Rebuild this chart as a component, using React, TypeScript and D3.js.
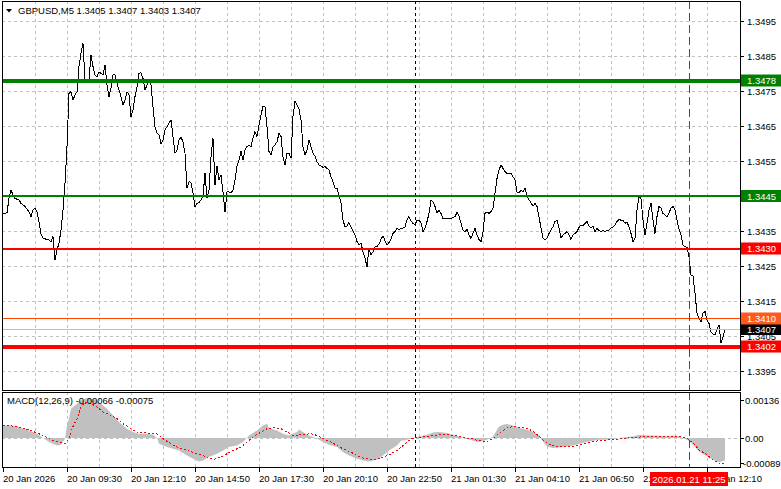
import React from 'react';
import * as d3 from 'd3';

// ---------- DATA ----------
const headerText = 'GBPUSD,M5  1.3405 1.3407 1.3403 1.3407';
const macdHeader = 'MACD(12,26,9) -0.00066 -0.00075';

// M5 bars counted from 20 Jan 06:50
const priceBars = [
  0, 2, 3, 4, 5, 6, 8, 9, 11, 13, 14, 15, 16, 17, 18, 19, 20, 22, 23, 24, 25, 26, 27, 28, 29, 30,
  31, 32, 33, 34, 35, 36, 37, 38, 39, 40, 41, 42, 43, 44, 45, 46, 47, 48, 49, 50, 51, 52, 53, 54,
  55, 56, 57, 58, 59, 60, 61, 62, 63, 64, 65, 66, 67, 68, 69, 70, 71, 72, 73, 74, 75, 76, 77, 78,
  79, 80, 81, 82, 83, 84, 85, 86, 87, 88, 89, 90, 91, 92, 93, 94, 95, 96, 97, 98, 99, 100, 101, 102,
  103, 104, 105, 106, 107, 108, 109, 110, 111, 112, 113, 114, 115, 116, 117, 118, 119, 120, 121,
  122, 123, 124, 125, 126, 127, 128, 129, 130, 131, 132, 133, 134, 135, 136, 137, 138, 139, 140,
  141, 142, 143, 144, 145, 146, 147, 148, 149, 150, 151, 152, 153, 154, 155, 156, 157, 158, 159,
  160, 161, 162, 163, 164, 165, 166, 167, 168, 169, 170, 171, 172, 173, 174, 175, 176, 177, 178,
  179, 180, 181, 182, 183, 184, 185, 186, 187, 188, 189, 190, 191, 192, 193, 194, 195, 196, 197,
  198, 199, 200, 201, 202, 203, 204, 205, 206, 207, 208, 209, 210, 211, 212, 213, 214, 215, 216,
  217, 218, 219, 220, 221, 222, 223, 224, 225, 226, 227, 228, 229, 230, 231, 232, 233, 234, 235,
  236, 237, 238, 239, 240, 241, 242, 243, 244, 245, 246, 247, 248, 249, 250, 251, 252, 253, 254,
  255, 256, 257, 258, 259, 260, 261, 262, 263, 264, 265, 266, 267, 268, 269, 270, 271, 272, 273,
  274, 275, 276, 277, 278, 279, 280, 281, 282, 283, 284, 285, 286, 287, 288, 289, 290, 291, 292,
  293, 294, 295, 296, 297, 298, 299, 300, 301, 302, 303, 304, 305, 306, 307, 308, 309, 310, 311,
  312, 313, 314, 315, 316, 317, 318, 319, 320, 321, 322, 323, 324, 325, 326, 327, 328, 329, 330,
  331, 332, 333, 334, 335, 336, 337, 338, 339, 340, 341, 342, 343, 344, 345, 346, 347, 348, 349,
  350, 351, 352, 353, 354, 355, 356, 357, 358, 359, 360, 361,
];
const priceCloses = [
  1.34400, 1.34402, 1.34443, 1.34467, 1.34453, 1.34443, 1.34439, 1.34429, 1.34420, 1.34405, 1.34391,
  1.34410, 1.34415, 1.34405, 1.34377, 1.34341, 1.34329, 1.34326, 1.34324, 1.34320, 1.34334, 1.34267,
  1.34296, 1.34315, 1.34353, 1.34410,
  1.34486, 1.34591, 1.34743, 1.34748, 1.34724, 1.34739, 1.34748, 1.34820, 1.34858, 1.34886, 1.34781,
  1.34772, 1.34781, 1.34853, 1.34820, 1.34796, 1.34791, 1.34805, 1.34800, 1.34796, 1.34824, 1.34767,
  1.34734, 1.34758,
  1.34796, 1.34796, 1.34772, 1.34753, 1.34734, 1.34710, 1.34724, 1.34748, 1.34739, 1.34677, 1.34696,
  1.34734, 1.34762, 1.34800, 1.34802, 1.34786, 1.34753, 1.34767, 1.34781, 1.34767, 1.34705, 1.34648,
  1.34629, 1.34624,
  1.34600, 1.34610, 1.34639, 1.34648, 1.34658, 1.34667, 1.34620, 1.34572, 1.34581, 1.34610, 1.34618,
  1.34605, 1.34572, 1.34472, 1.34491, 1.34488, 1.34458, 1.34420, 1.34429, 1.34431, 1.34439, 1.34448,
  1.34517, 1.34443,
  1.34467, 1.34562, 1.34615, 1.34481, 1.34536, 1.34496, 1.34510, 1.34462, 1.34405, 1.34462, 1.34462,
  1.34458, 1.34467, 1.34496, 1.34536, 1.34553, 1.34577, 1.34553, 1.34581,
  1.34591, 1.34596, 1.34591, 1.34615, 1.34634, 1.34620, 1.34653, 1.34681, 1.34707, 1.34705, 1.34648,
  1.34577, 1.34567, 1.34591, 1.34596, 1.34605, 1.34629, 1.34620, 1.34562,
  1.34539, 1.34572, 1.34572, 1.34558, 1.34677, 1.34720, 1.34710, 1.34698, 1.34667, 1.34591, 1.34567,
  1.34581, 1.34610, 1.34591, 1.34572, 1.34564, 1.34548, 1.34539, 1.34536,
  1.34532, 1.34534, 1.34529, 1.34524, 1.34505, 1.34491, 1.34472, 1.34472, 1.34453, 1.34429, 1.34381,
  1.34362, 1.34364, 1.34374, 1.34362, 1.34351, 1.34339, 1.34320, 1.34310,
  1.34315, 1.34291, 1.34272, 1.34248, 1.34300, 1.34281, 1.34291, 1.34305, 1.34305, 1.34313, 1.34326,
  1.34336, 1.34322, 1.34310, 1.34317, 1.34326, 1.34343, 1.34348, 1.34358,
  1.34353, 1.34357, 1.34358, 1.34362, 1.34381, 1.34391, 1.34378, 1.34372, 1.34367, 1.34381, 1.34380,
  1.34374, 1.34348, 1.34358, 1.34377, 1.34400, 1.34439, 1.34434, 1.34420,
  1.34402, 1.34410, 1.34400, 1.34386, 1.34386, 1.34386, 1.34386, 1.34386, 1.34388, 1.34391, 1.34403,
  1.34393, 1.34372, 1.34353, 1.34348, 1.34355, 1.34339, 1.34329, 1.34343,
  1.34358, 1.34339, 1.34326, 1.34319, 1.34348, 1.34400, 1.34405, 1.34400, 1.34405, 1.34415, 1.34458,
  1.34500, 1.34524, 1.34539, 1.34529, 1.34520, 1.34515, 1.34515, 1.34515,
  1.34505, 1.34496, 1.34462, 1.34458, 1.34467, 1.34462, 1.34472, 1.34450, 1.34439, 1.34431, 1.34421,
  1.34429, 1.34420, 1.34391, 1.34358, 1.34329, 1.34326, 1.34329, 1.34343,
  1.34353, 1.34362, 1.34377, 1.34381, 1.34358, 1.34329, 1.34339, 1.34343, 1.34348, 1.34339, 1.34326,
  1.34339, 1.34343, 1.34348, 1.34360, 1.34367, 1.34364, 1.34372, 1.34377,
  1.34364, 1.34358, 1.34364, 1.34348, 1.34358, 1.34351, 1.34348, 1.34353, 1.34348, 1.34351, 1.34353,
  1.34358, 1.34362, 1.34367, 1.34377, 1.34383, 1.34381, 1.34380, 1.34372,
  1.34375, 1.34362, 1.34343, 1.34320, 1.34329, 1.34410, 1.34448, 1.34443, 1.34381, 1.34339, 1.34372,
  1.34410, 1.34429, 1.34381, 1.34343, 1.34391, 1.34420, 1.34415, 1.34400,
  1.34396, 1.34391, 1.34402, 1.34415, 1.34420, 1.34410, 1.34381, 1.34355, 1.34339, 1.34310, 1.34305,
  1.34303, 1.34277, 1.34224, 1.34221, 1.34172, 1.34115, 1.34100, 1.34091,
  1.34115, 1.34120, 1.34096, 1.34086, 1.34062, 1.34056, 1.34053, 1.34069, 1.34081, 1.34029, 1.34048, 1.34070,
];

const macdBars = [
  0, 4, 7, 10, 13, 17, 20, 23, 27, 29, 31, 32, 33, 34, 37, 39, 42, 44, 47, 49, 52, 55, 58, 62, 65, 68,
  72, 75, 77, 78, 82, 85, 88, 92, 95, 98, 100, 103, 107, 110, 113, 117, 120, 123, 127, 130, 132, 133,
  137, 140, 143, 147, 148, 150, 153, 157, 160, 163, 167, 170, 173, 177, 180, 183, 187, 190, 193, 197,
  199, 202, 205, 208, 212, 215, 218, 222, 225, 228, 232, 235, 238, 242, 245, 247, 248, 250, 252, 255,
  258, 262, 265, 268, 270, 272, 275, 278, 282, 285, 288, 292, 295, 298, 302, 305, 308, 312, 315, 318,
  322, 325, 328, 332, 335, 338, 342, 345, 348, 352, 355, 358, 361,
];
const macdValues = [
  0.000453, 0.000453, 0.000429, 0.000334, 0.000274, 0.000155, 0, -0.000143, -0.000262, -0.000239,
  -0.000024, 0.000453, 0.000692, 0.00105, 0.001229, 0.001348, 0.001432, 0.001408, 0.001348, 0.001229,
  0.00105, 0.000811, 0.000573, 0.000334, 0.000215, 0.000155,
  0.000155, 0.000119, 0, -0.000203, -0.000322, -0.000382, -0.000441, -0.00062, -0.00074, -0.000835,
  -0.000799, -0.00068, -0.000561, -0.000441, -0.000322, -0.000262, -0.000143, 0.000095, 0.000274,
  0.000453, 0.000513, 0.000358,
  0.000274, 0.000155, 0.000095, 0.000215, 0.00031, 0.000215, 0.000095, -0.000024, -0.000143,
  -0.000239, -0.000322, -0.000501, -0.00062, -0.00074, -0.000799, -0.000835, -0.000764, -0.00062,
  -0.000441, -0.000262,
  -0.000095, -0.00006, 0, 0.00006, 0.000119, 0.000203, 0.000215, 0.000179, 0.000119, 0.00006,
  -0.000024, -0.000095, -0.000143, -0.00006, 0.00006, 0.000298, 0.000418, 0.000477, 0.000501, 0.000453,
  0.000358, 0.000298, 0.000239, 0.000095, -0.000119, -0.000298, -0.000358, -0.000334, -0.000298,
  -0.000262, -0.000215, -0.000143, -0.000095, -0.00006, -0.00006, -0.000036, 0, 0.000036, 0.00006,
  0.000119, 0.000095, 0.000095, 0.000084, 0.00006, 0.000095, 0.00006, -0.00006, -0.000239, -0.000477,
  -0.000656, -0.000775, -0.000859, -0.00080,
];

const signalBars = [
  0, 5, 10, 15, 20, 25, 29, 31, 33, 34, 37, 39, 41, 44, 47, 50, 54, 57, 60, 64, 67, 72, 77, 80, 84, 87,
  92, 97, 102, 105, 109, 112, 115, 119, 122, 125, 129, 132, 135, 139, 142, 145, 149, 154, 157, 160,
  164, 167, 170, 174, 177, 180, 184, 187, 190, 194, 197, 199, 202, 205, 208, 212, 215, 218, 222, 225,
  228, 232, 235, 238, 242, 245, 248, 252, 255, 258, 262, 265, 268, 272, 275, 278, 282, 285, 288, 292,
  295, 298, 302, 305, 308, 312, 315, 318, 322, 328, 335, 338, 342, 345, 348, 352, 355, 358, 361,
];
const signalValues = [
  0.000453, 0.000429, 0.000358, 0.000239, 0.000095, -0.000084, -0.000167, -0.000203, -0.000024,
  0.000274, 0.000692, 0.00111, 0.001288, 0.001229, 0.00111, 0.000931, 0.000811, 0.000692, 0.000513,
  0.000334, 0.000215, 0.000179, 0.000155, -0.000024, -0.000203, -0.000322,
  -0.000441, -0.000561, -0.00068, -0.000764, -0.00068, -0.000561, -0.000441, -0.000322, -0.000143,
  0.000036, 0.000215, 0.000334, 0.00037, 0.000334, 0.000215, 0.000095, 0.000119, 0.000155, 0.000095,
  -0.000024, -0.000143, -0.000262, -0.000382, -0.000501, -0.00062, -0.000716, -0.000764, -0.000764,
  -0.00068, -0.000561, -0.000441, -0.000334, -0.000143, 0, 0.000024, 0.00006, 0.000095, 0.000119,
  0.000119, 0.000095, 0.00006, 0, -0.000036, -0.000095, -0.000119, -0.000024, 0.000179, 0.000358,
  0.000418, 0.000382, 0.000358, 0.000239, 0.00006, -0.000179, -0.000274, -0.000298, -0.000298,
  -0.000298, -0.000239, -0.000179, -0.000119, -0.000095, -0.000072, -0.00006, -0.000036, 0, 0.000024,
  0.000036, 0.00006, 0.00006, 0.00006, 0.00006, 0, -0.000179, -0.000418, -0.000597, -0.000775,
  -0.000895, -0.00089,
];

const priceTicks = [1.3395, 1.3405, 1.3415, 1.3425, 1.3435, 1.3445, 1.3455, 1.3465, 1.3475, 1.3485, 1.3495];
const levelValues = [1.3478, 1.3445, 1.3430, 1.3410, 1.3402];
const currentPrice = 1.3407;
const macdTicks = [0.00136, 0, -0.00089];
const macdTickLabels = ['0.00136', '0.00', '-0.00089'];
const timeTickBars = [0, 32, 64, 96, 128, 160, 192, 224, 256, 288, 320, 352];
const timeTickLabels = [
  '20 Jan 2026', '20 Jan 09:30', '20 Jan 12:10', '20 Jan 14:50', '20 Jan 17:30', '20 Jan 20:10',
  '20 Jan 22:50', '21 Jan 01:30', '21 Jan 04:10', '21 Jan 06:50', '21 Jan 09:30', '21 Jan 12:10',
];
const daySeparatorBars = [206];
const markerBar = 343;
const markerLabel = '2026.01.21 11:25';

// ---------- LAYOUT ----------
const W = 781;
const H = 489;
const L = 2;
const R = 740;
const MAIN_T = 1;
const MAIN_B = 390;
const MACD_T = 392;
const MACD_B = 467;
const FONT = '"Liberation Sans", Arial, sans-serif';
const FS = 9.5;

const levelStyle = [
  { color: '#008000', width: 4, box: '#008000' },
  { color: '#008000', width: 2, box: '#008000' },
  { color: '#FF0000', width: 2, box: '#FF0000' },
  { color: '#FF4500', width: 1, box: '#FF5A1E' },
  { color: '#FF0000', width: 4, box: '#FF0000' },
];

export default function App() {
  const x = d3.scaleLinear().domain([0, 361]).range([3, 725]);
  const y = d3.scaleLinear().domain([1.3395, 1.3495]).range([371, 21]);
  const ym = d3.scaleLinear().domain([-0.00089, 0.00136]).range([463, 400]);

  const priceData = priceBars.map((b, i) => [b, priceCloses[i]] as [number, number]);
  const macdData = macdBars.map((b, i) => [b, macdValues[i]] as [number, number]);
  const sigData = signalBars.map((b, i) => [b, signalValues[i]] as [number, number]);

  const priceLine = d3.line<[number, number]>().x((d) => x(d[0])).y((d) => y(d[1]))(priceData) || '';
  const macdArea = d3
    .area<[number, number]>()
    .x((d) => x(d[0]))
    .y0(ym(0))
    .y1((d) => ym(d[1]))(macdData) || '';
  const sigLine = d3.line<[number, number]>().x((d) => x(d[0])).y((d) => ym(d[1]))(sigData) || '';

  const gridBars = d3.range(16, 361, 16);
  const grid = '#C0C0C0';
  const fmt = d3.format('.4f');

  return (
    <svg
      width={W}
      height={H}
      style={{ position: 'absolute', left: 0, top: 0, background: '#fff' }}
      fontFamily={FONT}
      fontSize={FS}
    >
      <defs>
        <clipPath id="mainClip">
          <rect x={L} y={MAIN_T} width={R - L} height={MAIN_B - MAIN_T} />
        </clipPath>
        <clipPath id="macdClip">
          <rect x={L} y={MACD_T} width={R - L} height={MACD_B - MACD_T} />
        </clipPath>
      </defs>
      <rect x={0} y={0} width={W} height={H} fill="#fff" />

      {/* grid main */}
      <g stroke={grid} strokeWidth={1} strokeDasharray="3,3" shapeRendering="crispEdges">
        {priceTicks.map((t) => (
          <line key={'h' + t} x1={L} x2={R} y1={Math.round(y(t)) + 0.5} y2={Math.round(y(t)) + 0.5} />
        ))}
        {gridBars.map((b) => (
          <line key={'v' + b} x1={x(b) + 0.5} x2={x(b) + 0.5} y1={MAIN_T} y2={MAIN_B} />
        ))}
        {gridBars.map((b) => (
          <line key={'vm' + b} x1={x(b) + 0.5} x2={x(b) + 0.5} y1={MACD_T} y2={MACD_B} />
        ))}
        <line x1={L} x2={R} y1={Math.round(ym(0)) + 0.5} y2={Math.round(ym(0)) + 0.5} />
      </g>

      {/* MACD */}
      <g clipPath="url(#macdClip)">
        <path d={macdArea} fill="#C0C0C0" />
        <path d={sigLine} fill="none" stroke="#FF0000" strokeWidth={1} strokeDasharray="2,2" shapeRendering="crispEdges" />
      </g>

      {/* separators */}
      {daySeparatorBars.map((b) => (
        <g key={'sep' + b} stroke="#000" strokeDasharray="3,3" shapeRendering="crispEdges">
          <line x1={x(b) + 0.5} x2={x(b) + 0.5} y1={MAIN_T} y2={MAIN_B} />
          <line x1={x(b) + 0.5} x2={x(b) + 0.5} y1={MACD_T} y2={MACD_B} />
        </g>
      ))}

      {/* price line */}
      <g clipPath="url(#mainClip)">
        <path d={priceLine} fill="none" stroke="#000" strokeWidth={1} shapeRendering="crispEdges" />
      </g>

      {/* levels */}
      <g shapeRendering="crispEdges">
        <line x1={L} x2={R} y1={Math.round(y(currentPrice)) + 0.5} y2={Math.round(y(currentPrice)) + 0.5} stroke="#C0C0C0" />
        {levelValues.map((v, i) => (
          <line key={'lv' + v} x1={L} x2={R} y1={y(v)} y2={y(v)} stroke={levelStyle[i].color} strokeWidth={levelStyle[i].width} />
        ))}
      </g>

      {/* marker vertical */}
      <g stroke="#FF0000" strokeDasharray="8,4" shapeRendering="crispEdges">
        <line x1={x(markerBar) + 0.5} x2={x(markerBar) + 0.5} y1={MAIN_T} y2={MAIN_B} />
        <line x1={x(markerBar) + 0.5} x2={x(markerBar) + 0.5} y1={MACD_T} y2={MACD_B} />
      </g>

      {/* borders */}
      <g fill="none" stroke="#000" shapeRendering="crispEdges">
        <rect x={L + 0.5} y={MAIN_T + 0.5} width={R - L} height={MAIN_B - MAIN_T} />
        <rect x={L + 0.5} y={MACD_T + 0.5} width={R - L} height={MACD_B - MACD_T} />
      </g>

      {/* header */}
      <path d="M6,9 L12,9 L9,12.5 Z" fill="#000" />
      <text x={18} y={14} fill="#000">{headerText}</text>
      <text x={7} y={404} fill="#000">{macdHeader}</text>

      {/* price axis */}
      <g>
        {priceTicks.map((t) => (
          <g key={'pt' + t}>
            <line x1={R} x2={R + 4} y1={Math.round(y(t)) + 0.5} y2={Math.round(y(t)) + 0.5} stroke="#000" shapeRendering="crispEdges" />
            <text x={747} y={y(t) + 3.5} fill="#000">{fmt(t)}</text>
          </g>
        ))}
        {/* current price box */}
        <rect x={741} y={y(currentPrice) - 6} width={40} height={12} fill="#000" />
        <text x={747} y={y(currentPrice) + 3.5} fill="#fff">{fmt(currentPrice)}</text>
        {levelValues.map((v, i) => (
          <g key={'lb' + v}>
            <rect x={741} y={y(v) - 6} width={40} height={12} fill={levelStyle[i].box} />
            <text x={747} y={y(v) + 3.5} fill="#fff">{fmt(v)}</text>
          </g>
        ))}
      </g>

      {/* macd axis */}
      <g>
        {macdTicks.map((t, i) => (
          <g key={'mt' + i}>
            <line x1={R} x2={R + 4} y1={Math.round(ym(t)) + 0.5} y2={Math.round(ym(t)) + 0.5} stroke="#000" shapeRendering="crispEdges" />
            <text x={i === 2 ? 743 : 745} y={ym(t) + 3.5} fill="#000">{macdTickLabels[i]}</text>
          </g>
        ))}
      </g>

      {/* time axis */}
      <g>
        {timeTickBars.map((b, i) => (
          <g key={'tt' + b}>
            <line x1={x(b) + 0.5} x2={x(b) + 0.5} y1={MACD_B} y2={MACD_B + 5} stroke="#000" shapeRendering="crispEdges" />
            <text x={x(b)} y={482} fill="#000">{timeTickLabels[i]}</text>
          </g>
        ))}
        <rect x={x(markerBar) - 39} y={472} width={78} height={14} fill="#FF0000" />
        <text x={x(markerBar)} y={482.5} fill="#fff" textAnchor="middle">{markerLabel}</text>
      </g>
    </svg>
  );
}
